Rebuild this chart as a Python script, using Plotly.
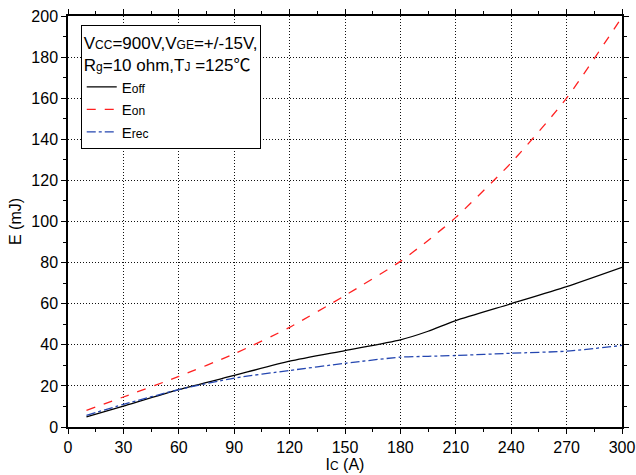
import plotly.graph_objects as go

ic = [10, 30, 60, 90, 120, 150, 180, 195, 210, 240, 270, 300]
e_off = [4.9, 10.2, 18.2, 25.1, 32.0, 37.2, 42.4, 46.6, 51.8, 60.0, 68.3, 77.7]
e_on = [8.1, 14.6, 24.6, 35.6, 48.5, 64.0, 80.6, 90.8, 102.0, 128.6, 160.0, 199.5]
e_rec = [5.7, 11.0, 18.2, 23.8, 27.5, 31.0, 34.0, 34.4, 34.8, 35.9, 36.9, 39.7]

x_ticks = list(range(0, 301, 30))
y_ticks = list(range(0, 201, 20))

FONT = "Liberation Sans, Arial, sans-serif"
SM = '<span style="font-size:12px">{}</span>'
DEG = '<span style="font-family:\'Noto Sans CJK SC\'">℃</span>'

fig = go.Figure()
fig.add_trace(go.Scatter(x=ic, y=e_off, mode="lines", name="E" + SM.format("off"),
                         line=dict(color="black", width=1.3, shape="spline", smoothing=0.6)))
fig.add_trace(go.Scatter(x=ic, y=e_on, mode="lines", name="E" + SM.format("on"),
                         line=dict(color="#ff2020", width=1.3, dash="dash", shape="spline", smoothing=0.6)))
fig.add_trace(go.Scatter(x=ic, y=e_rec, mode="lines", name="E" + SM.format("rec"),
                         line=dict(color="#2446b0", width=1.3, dash="dashdot", shape="spline", smoothing=0.6)))

legend_title = ("V" + SM.format("CC") + "=900V,V" + SM.format("GE") + "=+/-15V,<br>"
                "R" + SM.format("g") + "=10 ohm,T" + SM.format("J") + " =125" + DEG)

axis_common = dict(
    showline=True, linecolor="black", linewidth=1.5, mirror="ticks",
    ticks="outside", ticklen=5, tickcolor="black", tickwidth=1,
    showgrid=True, gridcolor="#111111", griddash="1px,2px", gridwidth=1,
    zeroline=False, automargin=False,
    tickfont=dict(family=FONT, size=16, color="black"),
)

fig.update_layout(
    width=636, height=475,
    margin=dict(l=68, r=14, t=16, b=48),
    paper_bgcolor="white", plot_bgcolor="white",
    font=dict(family=FONT, size=16, color="black"),
    showlegend=True,
    legend=dict(
        title=dict(text=legend_title, font=dict(family=FONT, size=17, color="black")),
        x=0.023, y=0.977, xanchor="left", yanchor="top",
        bordercolor="black", borderwidth=1, bgcolor="white",
        font=dict(family=FONT, size=15, color="black"),
        tracegroupgap=0, itemwidth=30,
    ),
    xaxis=dict(range=[0, 300], tickvals=x_ticks,
               minor=dict(dtick=15, ticks="outside", ticklen=3, tickcolor="black", showgrid=False),
               title=dict(text="I" + SM.format("C") + " (A)", standoff=2,
                          font=dict(family=FONT, size=16)),
               **axis_common),
    yaxis=dict(range=[0, 200], tickvals=y_ticks,
               minor=dict(dtick=10, ticks="outside", ticklen=3, tickcolor="black", showgrid=False),
               title=dict(text="E (mJ)", standoff=6, font=dict(family=FONT, size=16)),
               **axis_common),
)

fig.write_html("out.html")
